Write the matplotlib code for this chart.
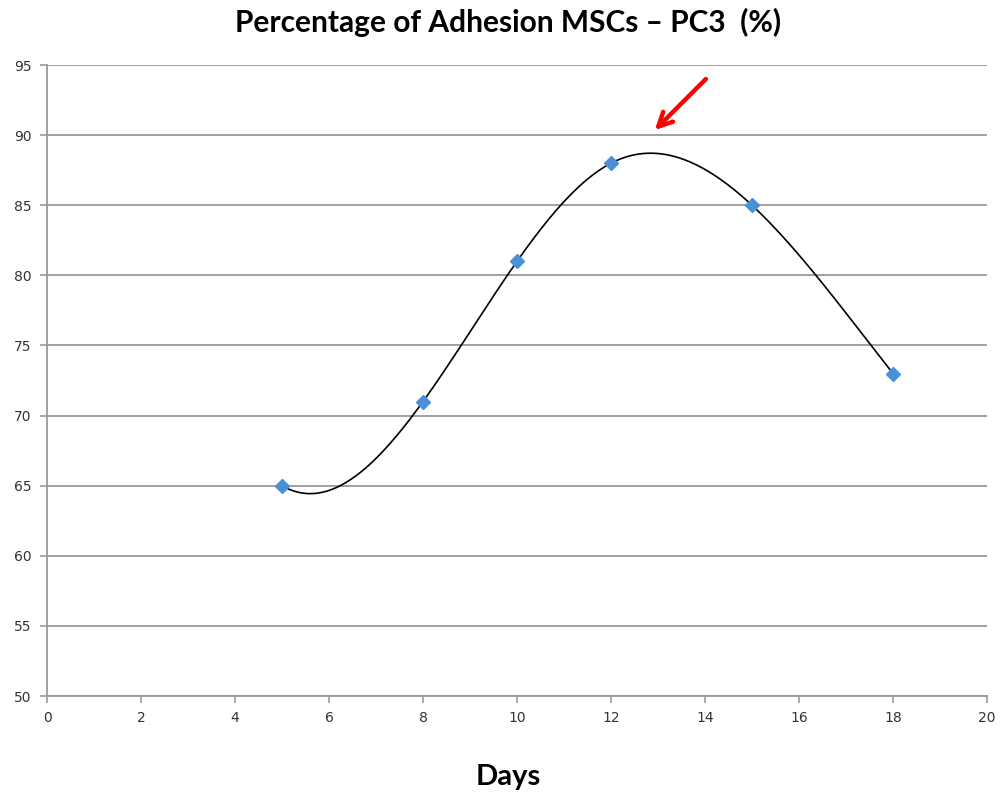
import numpy as np
import matplotlib
matplotlib.use("Agg")
import matplotlib.pyplot as plt

# data
days = np.array([5, 8, 10, 12, 15, 18], dtype=float)
adhesion = np.array([65, 71, 81, 88, 85, 73], dtype=float)

x_ticks = list(range(0, 21, 2))
y_ticks = list(range(50, 96, 5))

title = "Percentage of Adhesion MSCs \u2013 PC3  (%)"
xlabel = "Days"


def not_a_knot_spline(x, y, xs):
    # cubic spline through the points, not-a-knot ends (close to Excel's smoothed line)
    n = len(x)
    h = np.diff(x)
    s = np.diff(y) / h
    A = np.zeros((n, n))
    b = np.zeros(n)
    A[0, 0] = h[1]
    A[0, 1] = -(h[0] + h[1])
    A[0, 2] = h[0]
    for i in range(1, n - 1):
        A[i, i - 1] = h[i - 1]
        A[i, i] = 2 * (h[i - 1] + h[i])
        A[i, i + 1] = h[i]
        b[i] = 6 * (s[i] - s[i - 1])
    A[-1, -3] = h[-1]
    A[-1, -2] = -(h[-2] + h[-1])
    A[-1, -1] = h[-2]
    M = np.linalg.solve(A, b)
    out = np.empty_like(xs)
    for k, xv in enumerate(xs):
        i = min(max(np.searchsorted(x, xv) - 1, 0), n - 2)
        hi = h[i]
        a = x[i + 1] - xv
        c = xv - x[i]
        out[k] = (M[i] * a ** 3 + M[i + 1] * c ** 3) / (6 * hi) \
            + (y[i] / hi - M[i] * hi / 6) * a + (y[i + 1] / hi - M[i + 1] * hi / 6) * c
    return out


fig = plt.figure(figsize=(10, 7.94), dpi=100)
ax = fig.add_axes([0.047, 0.1234, 0.94, 0.7947])

xs = np.linspace(days[0], days[-1], 400)
ax.plot(xs, not_a_knot_spline(days, adhesion, xs), color="black", lw=1.2, zorder=3)
ax.plot(days, adhesion, linestyle="none", marker="D", markersize=7,
        color="#4a90d9", markeredgecolor="#4a90d9", zorder=4)

ax.set_xlim(0, 20)
ax.set_ylim(50, 95)
ax.set_xticks(x_ticks)
ax.set_yticks(y_ticks)
ax.yaxis.grid(True, color="#999999", lw=1.3)
ax.set_axisbelow(True)
for side in ["top", "right"]:
    ax.spines[side].set_visible(False)
for side in ["left", "bottom"]:
    ax.spines[side].set_color("#999999")
    ax.spines[side].set_linewidth(1.3)
ax.tick_params(direction="out", length=5, width=1.2, color="#999999",
               labelsize=10, labelcolor="#333333", pad=6)

ax.annotate("", xy=(12.89, 90.22), xytext=(14.06, 94.14),
            arrowprops=dict(arrowstyle="->,head_length=1.0,head_width=0.5",
                            color="red", lw=3.2))

fig.text(0.508, 0.972, title, ha="center", va="center",
         fontsize=21.5, fontweight="bold", family="Lato")
fig.text(0.508, 0.021, xlabel, ha="center", va="center",
         fontsize=21, fontweight="bold", family="Lato")

fig.savefig("out.png", dpi=100)
